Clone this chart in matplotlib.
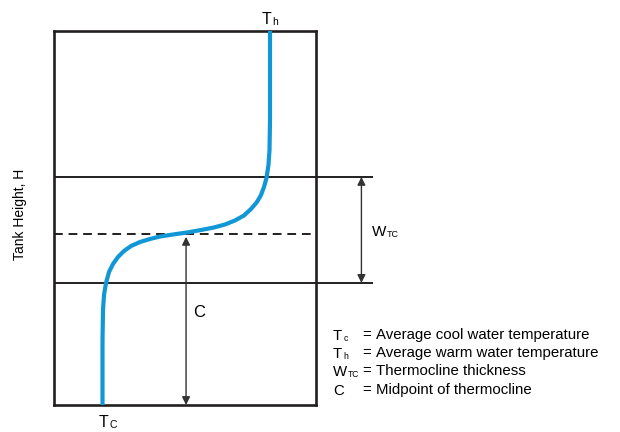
import matplotlib
matplotlib.use("Agg")
import matplotlib.pyplot as plt

plt.rcParams['font.family'] = ['Liberation Sans', 'DejaVu Sans']

# Temperature profile (fraction of box width) vs tank height (fraction of tank)
curve_T = [0.1867, 0.1867, 0.1886, 0.1924, 0.2000, 0.2114, 0.2267, 0.2457, 0.2686,
           0.2952, 0.3295, 0.3676, 0.4057, 0.4552, 0.5086, 0.5619, 0.6114, 0.6533,
           0.6914, 0.7257, 0.7524, 0.7752, 0.7905, 0.8019, 0.8114, 0.8190, 0.8229,
           0.8248, 0.8248]
curve_H = [0.0000, 0.1736, 0.2537, 0.2937, 0.3258, 0.3551, 0.3765, 0.3952, 0.4112,
           0.4245, 0.4352, 0.4433, 0.4499, 0.4553, 0.4606, 0.4673, 0.4740, 0.4820,
           0.4927, 0.5060, 0.5234, 0.5421, 0.5607, 0.5821, 0.6061, 0.6409, 0.6809,
           0.7610, 1.0000]

thermo_top = 0.609
thermo_mid = 0.457
thermo_bot = 0.326
line_extent = 1.217
w_arrow_x = 1.173
c_arrow_x = 0.505

legend_main = ['T', 'T', 'W', 'C']
legend_sub = ['c', 'h', 'TC', '']
legend_desc = ['Average cool water temperature', 'Average warm water temperature',
               'Thermocline thickness', 'Midpoint of thermocline']
legend_H = [0.187, 0.139, 0.091, 0.040]

fig = plt.figure(figsize=(6.2, 4.32), dpi=100)
W, Hf = 620, 432
ax = fig.add_axes([53.5 / W, (432 - 405) / Hf, 262.5 / W, 374.5 / Hf])
ax.set_xlim(0, 1)
ax.set_ylim(0, 1)
ax.set_xticks([])
ax.set_yticks([])
dark = '#231f20'
for s in ax.spines.values():
    s.set_linewidth(1.9)
    s.set_color(dark)

ax.plot([0, line_extent], [thermo_top, thermo_top], color=dark, lw=1.4, clip_on=False,
        solid_capstyle='butt')
ax.plot([0, line_extent], [thermo_bot, thermo_bot], color=dark, lw=1.4, clip_on=False,
        solid_capstyle='butt')
ax.plot([0, 1], [thermo_mid, thermo_mid], color=dark, lw=1.4, ls=(0, (4.5, 3)))

ax.plot(curve_T, curve_H, color='#1197d6', lw=3.0, solid_capstyle='butt',
        solid_joinstyle='round', zorder=3)

arrowprops = dict(arrowstyle='<|-|>', color='#333333', lw=1.0, mutation_scale=12,
                  shrinkA=0, shrinkB=0)
ax.annotate('', xy=(w_arrow_x, thermo_top), xytext=(w_arrow_x, thermo_bot),
            arrowprops=arrowprops, annotation_clip=False)
ax.annotate('', xy=(c_arrow_x, thermo_mid - 0.008), xytext=(c_arrow_x, 0.0),
            arrowprops=arrowprops, annotation_clip=False, zorder=4)


def sub_label(x, y, main, sub, size, subsize, ha='left', below=1.2):
    t = ax.text(x, y, main, ha=ha, va='baseline', fontsize=size, clip_on=False)
    if sub:
        # bbox bottom lies ~0.21 em below the baseline (font descent)
        ax.annotate(sub, xy=(1, 0), xycoords=t,
                    xytext=(0.6, 0.21 * size - below),
                    textcoords='offset points', ha='left', va='baseline',
                    fontsize=subsize, annotation_clip=False)
    return t


sub_label(0.812, 1.017, 'T', 'h', 11.5, 7.5, ha='center')
sub_label(0.190, -0.058, 'T', 'C', 11.5, 7.5, ha='center')
ax.text(0.555, 0.246, 'C', ha='center', va='center', fontsize=12)
sub_label(1.213, 0.452, 'W', 'TC', 11, 6.5)
ax.text(-0.128, 0.51, 'Tank Height, H', rotation=90, ha='center', va='center',
        fontsize=10, clip_on=False)

for m, sb, desc, h in zip(legend_main, legend_sub, legend_desc, legend_H):
    sub_label(1.065, h - 0.014, m, sb, 10.8, 6.2, below=0.8)
    ax.text(1.175, h, '=', ha='left', va='center', fontsize=10.8, clip_on=False)
    ax.text(1.229, h, desc, ha='left', va='center', fontsize=10.8, clip_on=False)

fig.savefig('out.png', dpi=100)
